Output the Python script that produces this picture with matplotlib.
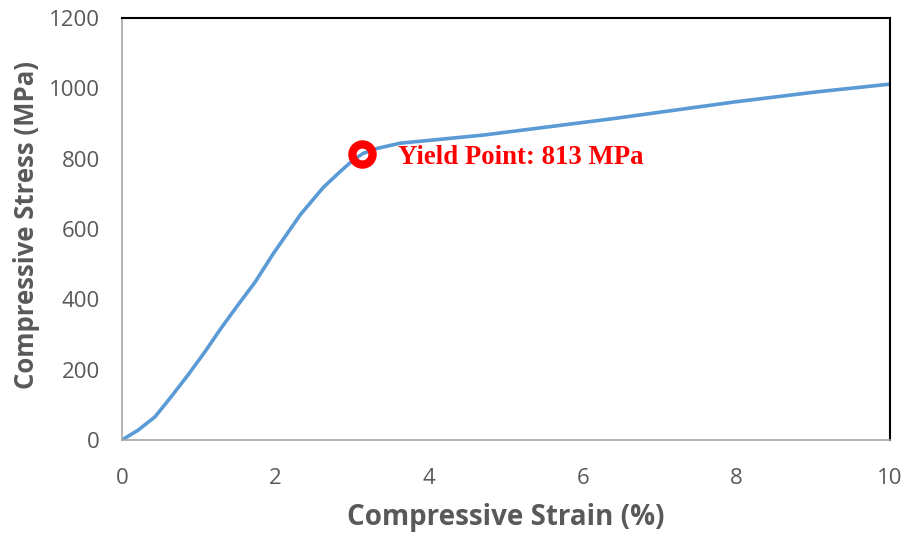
import matplotlib
matplotlib.use("Agg")
import matplotlib.pyplot as plt

# Compressive stress-strain curve
strain = [0.0, 0.21, 0.43, 0.64, 0.86, 1.08, 1.29, 1.51, 1.73, 1.97, 2.32,
          2.62, 2.84, 3.01, 3.14, 3.32, 3.62, 4.0, 4.7, 5.5, 6.4, 6.9, 8.0,
          9.05, 10.0]
stress = [0, 28, 66, 123, 185, 251, 318, 384, 448, 530, 640,
          718, 763, 796, 815, 829, 844, 852, 867, 889, 914, 929, 962,
          990, 1012]

yield_strain = 3.13
yield_stress = 813

x_ticks = [0, 2, 4, 6, 8, 10]
y_ticks = [0, 200, 400, 600, 800, 1000, 1200]

fig = plt.figure(figsize=(9.08, 5.34), dpi=100)
ax = fig.add_axes([122 / 908, 1 - 440 / 534, (890 - 122) / 908, (440 - 18) / 534])

ax.plot(strain, stress, color="#5B9BD5", lw=2.6, solid_capstyle="butt",
        solid_joinstyle="round", zorder=2)
ax.plot([yield_strain], [yield_stress], marker="o", ms=14.5, mew=6,
        mec="#FF0000", mfc="none", ls="none", zorder=3)
ax.text(3.6, 785, f"Yield Point: {yield_stress} MPa", color="#FF0000",
        family="Liberation Serif", fontweight="bold", fontsize=19.3,
        va="baseline", ha="left")

ax.set_xlim(0, 10)
ax.set_ylim(0, 1200)
ax.set_xticks(x_ticks)
ax.set_yticks(y_ticks)

tick_font = dict(family="Open Sans", size=16)
ax.set_xticklabels([str(v) for v in x_ticks], color="#595959", **tick_font)
ax.set_yticklabels([str(v) for v in y_ticks], color="#595959", **tick_font)
ax.tick_params(axis="both", length=0)
ax.tick_params(axis="x", pad=20)
ax.tick_params(axis="y", pad=16)

for side in ("left", "bottom"):
    ax.spines[side].set_color("#A6A6A6")
    ax.spines[side].set_linewidth(1.2)
for side in ("top", "right"):
    ax.spines[side].set_color("#000000")
    ax.spines[side].set_linewidth(1.5)

ax.set_xlabel("Compressive Strain (%)", labelpad=10, family="Open Sans",
              weight="bold", size=20, color="#595959")
ax.set_ylabel("Compressive Stress (MPa)", family="Open Sans",
              weight="bold", size=18.5, color="#595959")
ax.yaxis.set_label_coords(-(122 - 40) / 768, (440 - 225) / 422)

fig.savefig("out.png", dpi=100)
